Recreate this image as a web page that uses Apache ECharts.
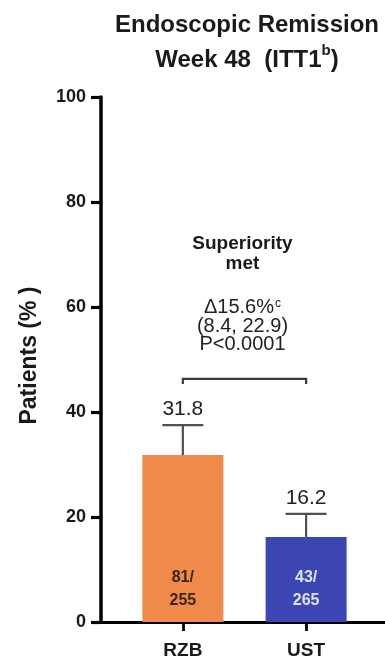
<!DOCTYPE html>
<html>
<head>
<meta charset="utf-8">
<script src="https://cdn.jsdelivr.net/npm/echarts@6/dist/echarts.min.js"></script>
<style>
  html, body { margin: 0; padding: 0; background: #fff; }
  #chart { width: 385px; height: 657px; }
</style>
</head>
<body>
<div id="chart"></div>
<script>
// Endoscopic remission at week 48
const categories = ['RZB', 'UST'];
const positions = [1, 2];
const remission = [31.8, 16.2];
const ciUpper = [37.5, 20.6];
const counts = ['81/\n255', '43/\n265'];
const barColors = ['#EF8A4A', '#3B46B3'];
const countColors = ['#3a2412', '#dfe2f5'];
const yTicks = [0, 20, 40, 60, 80, 100];
const bracketLevel = 46.3;
const annotationLines = ['Δ15.6%', '(8.4, 22.9)', 'P<0.0001'];

const FONT = '"Liberation Sans", Arial, sans-serif';

const chart = echarts.init(document.getElementById('chart'));

const barData = positions.map((p, i) => ({
  value: [p, remission[i]],
  itemStyle: { color: barColors[i] },
  label: { color: countColors[i] }
}));

const errData = positions.map((p, i) => [p, remission[i], ciUpper[i]]);

chart.setOption({
  animation: false,
  textStyle: { fontFamily: FONT },
  title: {
    text: 'Endoscopic Remission\nWeek 48  (ITT1{sup|b})',
    left: 242,
    top: 3,
    textAlign: 'center',
    textStyle: {
      fontFamily: FONT, fontSize: 24, fontWeight: 'bold', color: '#1a1a1a',
      lineHeight: 35,
      rich: { sup: { fontFamily: FONT, fontSize: 15, fontWeight: 'bold', verticalAlign: 'top', padding: [0, 0, 12, 0], color: '#1a1a1a' } }
    }
  },
  grid: { left: 101, right: 0, top: 97, bottom: 35, outerBoundsMode: 'none', containLabel: false },
  xAxis: {
    type: 'value',
    min: 0.336,
    max: 2.64,
    splitLine: { show: false },
    axisLine: { show: true, lineStyle: { color: '#000', width: 2.8 } },
    axisTick: { show: true, customValues: positions, length: 9, lineStyle: { color: '#000', width: 2.8 } },
    axisLabel: {
      customValues: positions,
      formatter: v => categories[positions.indexOf(v)] || '',
      fontFamily: FONT, fontSize: 19, fontWeight: 'bold', color: '#1a1a1a', margin: 19
    }
  },
  yAxis: {
    type: 'value',
    min: 0,
    max: 100,
    interval: 20,
    name: 'Patients (% )',
    nameLocation: 'middle',
    nameGap: 60,
    nameTextStyle: { fontFamily: FONT, fontSize: 23, fontWeight: 'bold', color: '#1a1a1a', padding: [0, 0, 0, 8] },
    splitLine: { show: false },
    axisLine: { show: true, lineStyle: { color: '#000', width: 3.5 } },
    axisTick: { show: true, length: 10, lineStyle: { color: '#000', width: 3.2 } },
    axisLabel: {
      formatter: v => (yTicks.indexOf(v) >= 0 ? String(v) : ''),
      fontFamily: FONT, fontSize: 18, fontWeight: 'bold', color: '#1a1a1a', margin: 15
    }
  },
  series: [
    {
      // whiskers (drawn behind the bars, so only the upper part shows)
      type: 'custom',
      z: 1,
      data: errData,
      renderItem: (params, api) => {
        const x = api.value(0);
        const top = api.coord([x, api.value(2)]);
        const base = api.coord([x, api.value(1)]);
        const half = 20.5;
        return {
          type: 'group',
          children: [
            { type: 'line', shape: { x1: top[0], y1: top[1], x2: base[0], y2: base[1] }, style: { stroke: '#505050', lineWidth: 2.2 } },
            { type: 'line', shape: { x1: top[0] - half, y1: top[1], x2: top[0] + half, y2: top[1] }, style: { stroke: '#505050', lineWidth: 2.2 } },
            { type: 'text', x: top[0], y: top[1] - 16, style: { text: String(api.value(1)), font: '21px ' + FONT, fill: '#222', align: 'center', verticalAlign: 'middle' } }
          ]
        };
      }
    },
    {
      type: 'bar',
      z: 2,
      barWidth: 81,
      data: barData,
      label: {
        show: true,
        position: 'insideBottom',
        distance: 10,
        formatter: p => counts[p.dataIndex],
        fontFamily: FONT,
        fontSize: 16,
        lineHeight: 23,
        fontWeight: 'bold'
      }
    },
    {
      // comparison bracket with annotation
      type: 'custom',
      z: 3,
      data: [[positions[0], positions[1], bracketLevel]],
      renderItem: (params, api) => {
        const a = api.coord([api.value(0), api.value(2)]);
        const b = api.coord([api.value(1), api.value(2)]);
        const cx = (a[0] + b[0]) / 2;
        return {
          type: 'group',
          children: [
            { type: 'polyline', shape: { points: [[a[0], a[1] + 5], a, b, [b[0], b[1] + 5]] }, style: { stroke: '#3a3a3a', lineWidth: 2.2, fill: null } },
            { type: 'text', x: cx - 2, y: a[1] - 34, style: { text: annotationLines[2], font: '20px ' + FONT, fill: '#222', align: 'center', verticalAlign: 'middle' } },
            { type: 'text', x: cx - 2, y: a[1] - 52, style: { text: annotationLines[1], font: '20px ' + FONT, fill: '#222', align: 'center', verticalAlign: 'middle' } },
            {
              type: 'text', x: cx - 2, y: a[1] - 71,
              style: {
                text: annotationLines[0] + '{sup|c}',
                font: '20px ' + FONT, fill: '#222', align: 'center', verticalAlign: 'middle',
                rich: { sup: { fontSize: 12, fontFamily: FONT, fill: '#222', verticalAlign: 'top', padding: [0, 0, 9, 1] } }
              }
            },
            { type: 'text', x: cx - 2, y: a[1] - 115, style: { text: 'met', font: 'bold 19px ' + FONT, fill: '#1a1a1a', align: 'center', verticalAlign: 'middle' } },
            { type: 'text', x: cx - 2, y: a[1] - 135, style: { text: 'Superiority', font: 'bold 19px ' + FONT, fill: '#1a1a1a', align: 'center', verticalAlign: 'middle' } }
          ]
        };
      }
    }
  ]
});
</script>
</body>
</html>
